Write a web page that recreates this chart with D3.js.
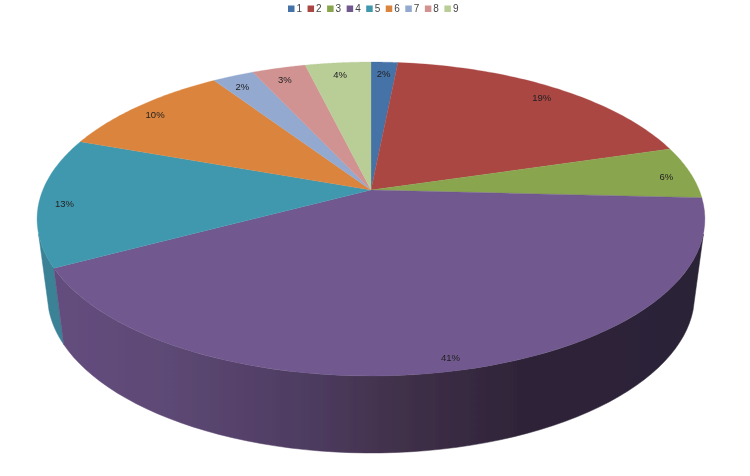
<!DOCTYPE html>
<html><head><meta charset="utf-8">
<script src="https://cdn.jsdelivr.net/npm/d3@7"></script>
<style>html,body{margin:0;padding:0;background:#fff}svg{display:block}</style>
</head><body><svg id="c" width="750" height="476"></svg>
<script>
(function(){
const categories = ["1","2","3","4","5","6","7","8","9"];
const values = [1.55,18.85,5.4,41.4,13.3,10.2,2.4,3.1,3.8];
const labels = ["2%","19%","6%","41%","13%","10%","2%","3%","4%"];
const colors = ["#4572A7","#AA4643","#89A54E","#71588F","#4198AF","#DB843D","#93A9CF","#D19392","#B9CD96"];
const wallStops = [[0,"#654f80"],[0.2,"#5d4874"],[0.4,"#4e3c61"],[0.55,"#403049"],[0.72,"#2f2439"],[1,"#2b2236"]];
const root0 = d3.select("#c");
const defs = root0.append("defs");
defs.append("filter").attr("id","soft").attr("x",0).attr("y",0).attr("width",1).attr("height",1)
  .attr("filterUnits","objectBoundingBox")
  .append("feGaussianBlur").attr("stdDeviation",0.4);
root0.append("rect").attr("width",750).attr("height",476).attr("fill","#fff");
const svg = root0.append("g").attr("filter","url(#soft)");
svg.append("rect").attr("width",750).attr("height",476).attr("fill","#fff");
const k = 0.1847;
// perspective projection of the pie disc
const project = (o) => (a, r = 1) => {
  const u = r * Math.sin(a), v = -r * Math.cos(a), w = 1 - k * v;
  return [o.cx + o.R * u / w, o.cy + o.S * v / w];
};
const topFace = project({cx:371, cy:190, R:328.2, S:151.6});
const botFace = project({cx:371, cy:265.8, R:318, S:152.6});
const pie = d3.pie().sort(null).value(d => d)(values);
const rad = d3.scaleLinear().domain([0,180]).range([0,Math.PI]);
const samples = (a0,a1) => d3.range(0,61).map(i => a0 + (a1-a0)*i/60);
const line = d3.line();
const grad = defs.append("linearGradient").attr("id","wall")
  .attr("gradientUnits","userSpaceOnUse").attr("x1",37).attr("x2",705).attr("y1",0).attr("y2",0);
wallStops.forEach(s => grad.append("stop").attr("offset",s[0]).attr("stop-color",s[1]));
// walls
const wallFrom = rad(106), wallTo = rad(254);
const wall = (a0,a1,fill) => svg.append("path")
  .attr("d", line(samples(a0,a1).map(a=>topFace(a)).concat(samples(a0,a1).reverse().map(a=>botFace(a)))) + "Z")
  .attr("fill",fill).attr("stroke",fill).attr("stroke-width",0.5);
wall(pie[3].endAngle, wallTo, "#3a8296");
wall(wallFrom, pie[3].endAngle, "url(#wall)");
// top face
pie.forEach((d,i) => {
  svg.append("path")
    .attr("d", line([topFace(0,0)].concat(samples(d.startAngle,d.endAngle).map(a=>topFace(a)))) + "Z")
    .attr("fill",colors[i]).attr("stroke",colors[i]).attr("stroke-width",0.3);
});
// data labels
pie.forEach((d,i) => {
  const p = topFace((d.startAngle+d.endAngle)/2, 0.925);
  svg.append("text").attr("x",p[0]).attr("y",p[1]+3.5).attr("dy","0.35em")
    .attr("text-anchor","middle").attr("font-family","'Liberation Sans',Arial,sans-serif")
    .attr("font-size",9.5).attr("fill","#222").text(labels[i]);
});
// legend
const lx = d3.scaleBand().domain(categories).range([288,288+19.55*9]);
const lg = svg.append("g").selectAll("g").data(categories).join("g")
  .attr("transform",d=>`translate(${lx(d)},0)`);
lg.append("rect").attr("y",5.5).attr("width",6.5).attr("height",6.5).attr("fill",(d,i)=>colors[i]);
lg.append("text").attr("x",8.5).attr("y",12).attr("font-family","'Liberation Sans',Arial,sans-serif")
  .attr("font-size",10).attr("fill","#444").text(d=>d);
})();
</script></body></html>
